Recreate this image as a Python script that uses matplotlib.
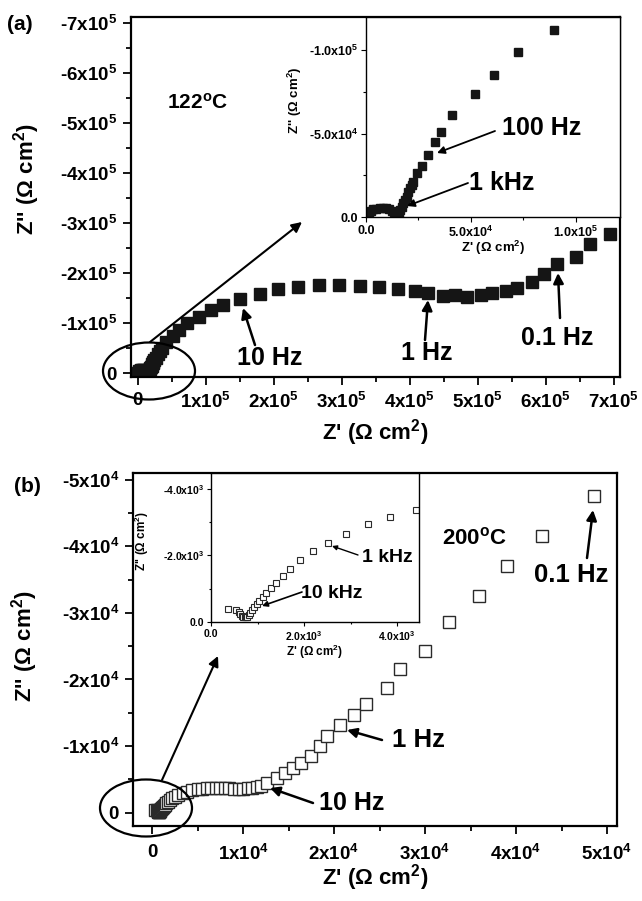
import numpy as np
import matplotlib
matplotlib.use('Agg')
import matplotlib.pyplot as plt
from matplotlib.patches import Ellipse, FancyArrowPatch
from matplotlib.ticker import MultipleLocator, FuncFormatter

plt.rcParams['font.family'] = ['Liberation Sans', 'DejaVu Sans']
plt.rcParams['font.weight'] = 'bold'
plt.rcParams['mathtext.fontset'] = 'custom'
plt.rcParams['mathtext.rm'] = 'Liberation Sans:bold'
plt.rcParams['mathtext.it'] = 'Liberation Sans:bold'
plt.rcParams['mathtext.bf'] = 'Liberation Sans:bold'

# (a) 122 C : Z' and -Z'' in 10^3 ohm cm2
a_zre = [0.5, 1.2, 2.2, 3.5, 5.0, 6.5, 8.0, 9.5, 11.0, 12.3,
         13.5, 14.6, 15.5, 16.2, 17.0, 17.8, 18.6, 19.4, 20.2, 21.0,
         21.8, 22.5, 24.1, 26.5, 29.7, 33.0, 35.9, 41.0, 51.9, 61.1,
         72.5, 89.5, 107, 126, 151, 179, 206, 236, 267, 296,
         326, 355, 383, 407, 427, 449, 467, 484, 504, 521,
         542, 558, 580, 597, 617, 644, 665, 694]
a_mzim = [1.0, 2.5, 3.8, 4.6, 5.1, 5.4, 5.5, 5.3, 4.7, 3.8,
          2.8, 2.0, 2.6, 4.0, 6.2, 8.2, 10.2, 12.2, 14.8, 17.5,
          19.5, 21.3, 26.3, 30.9, 37.3, 44.8, 50.8, 61.4, 73.5, 85.5,
          99.2, 112, 126, 136, 149, 159, 169, 173, 177, 177,
          175, 173, 168, 164, 161, 155, 156, 153, 156, 161,
          164, 171, 183, 199, 218, 233, 258, 278]

# (b) 200 C : Z' and -Z'' in ohm cm2
b_zre = [360, 540, 600, 630, 660, 690, 720, 750, 780, 810,
         840, 880, 920, 980, 1040, 1110, 1180, 1280, 1390, 1540,
         1700, 1920, 2200, 2520, 2900, 3370, 3850, 4410, 5000, 5500,
         6000, 6500, 7000, 7500, 8000, 8500, 9000, 9500, 10000, 10500,
         11000, 11500, 12000, 12600, 13700, 14600, 15500, 16400, 17500, 18500,
         19200, 20700, 22200, 23500, 25800, 27300, 30000, 32600, 35900, 39000,
         42900, 48600]
b_mzim = [380, 370, 300, 240, 190, 160, 140, 140, 160, 210,
          280, 360, 460, 540, 630, 760, 880, 1030, 1180, 1390,
          1590, 1860, 2130, 2380, 2660, 2940, 3160, 3380, 3500, 3600,
          3650, 3700, 3700, 3700, 3700, 3650, 3600, 3600, 3600, 3650,
          3700, 3800, 4000, 4500, 5200, 6000, 6700, 7500, 8500, 10000,
          11500, 13100, 14700, 16300, 18700, 21500, 24200, 28600, 32600, 37100,
          41600, 47600]

ax_re = np.array(a_zre) * 1e3
ay_im = -np.array(a_mzim) * 1e3
bx_re = np.array(b_zre, dtype=float)
by_im = -np.array(b_mzim, dtype=float)

W, H = 642, 901


def fp(x, y):
    return (x / W, 1 - y / H)


def box(l, t, r, b):
    return [l / W, 1 - b / H, (r - l) / W, (b - t) / H]


def sci(dec):
    def f(v, pos):
        if abs(v) < 1e-9:
            return '0' if dec == 0 else '0.' + '0' * dec
        e = int(np.floor(np.log10(abs(v)) + 1e-9))
        m = v / 10 ** e
        return f'{m:.{dec}f}x10$^{{{e}}}$'
    return FuncFormatter(f)


def style(ax, xmaj, ymaj, dec, lsize, lw, tl, pad_x, pad_y):
    ax.xaxis.set_major_locator(MultipleLocator(xmaj))
    ax.xaxis.set_minor_locator(MultipleLocator(xmaj / 2))
    ax.yaxis.set_major_locator(MultipleLocator(ymaj))
    ax.yaxis.set_minor_locator(MultipleLocator(ymaj / 2))
    ax.xaxis.set_major_formatter(sci(dec))
    ax.yaxis.set_major_formatter(sci(dec))
    for s in ax.spines.values():
        s.set_linewidth(lw)
    ax.tick_params(which='both', direction='out', top=False, right=False, width=lw * 0.8)
    ax.tick_params(which='major', length=tl, labelsize=lsize)
    ax.tick_params(which='minor', length=tl * 0.55)
    ax.tick_params(axis='x', pad=pad_x)
    ax.tick_params(axis='y', pad=pad_y)


fig = plt.figure(figsize=(W / 100, H / 100), dpi=100)

# ---- panel (a)
axa = fig.add_axes(box(131, 17, 620, 377))
axa.plot(ax_re, ay_im, 's', ms=8, color='#151515')
axa.set_xlim(-0.1e5, 7.09e5)
axa.set_ylim(0.08e5, -7.12e5)
style(axa, 1e5, 1e5, 0, 13.5, 1.6, 6, 5, 4)

ina = fig.add_axes(box(366, 17, 620, 217))
ina.plot(ax_re, ay_im, 's', ms=5.3, color='#151515')
ina.set_xlim(0, 1.21e5)
ina.set_ylim(0, -1.2e5)
style(ina, 5e4, 5e4, 1, 9, 1.0, 3.5, 2, 2)

fig.text(*fp(20, 25), '(a)', fontsize=15, ha='center', va='center')
fig.text(*fp(197, 103), '122$^{o}$C', fontsize=15, ha='center', va='center')
fig.text(*fp(27, 179), "Z'' ($\\Omega$ cm$^2$)", fontsize=16, rotation=90, ha='center', va='center')
fig.text(*fp(375, 433), "Z' ($\\Omega$ cm$^2$)", fontsize=16, ha='center', va='center')
fig.text(*fp(493, 248), "Z' ($\\Omega$ cm$^2$)", fontsize=9.5, ha='center', va='center')
fig.text(*fp(295, 100), "Z'' ($\\Omega$ cm$^2$)", fontsize=9.5, rotation=90, ha='center', va='center')

fig.text(*fp(270, 358), '10 Hz', fontsize=18, ha='center', va='center')
fig.text(*fp(427, 353), '1 Hz', fontsize=18, ha='center', va='center')
fig.text(*fp(557, 338), '0.1 Hz', fontsize=18, ha='center', va='center')
fig.text(*fp(542, 128), '100 Hz', fontsize=18, ha='center', va='center')
fig.text(*fp(502, 183), '1 kHz', fontsize=18, ha='center', va='center')

# ---- panel (b)
axb = fig.add_axes(box(133, 473, 617, 826))
axb.plot(bx_re, by_im, 's', ms=8, mfc='white', mec='#2a2a2a', mew=1.0)
axb.set_xlim(-0.21e4, 5.11e4)
axb.set_ylim(0.2e4, -5.1e4)
style(axb, 1e4, 1e4, 0, 13.5, 1.6, 6, 7, 4)

inb = fig.add_axes(box(211, 473, 419, 622))
inb.plot(bx_re, by_im, 's', ms=4.6, mfc='white', mec='#2a2a2a', mew=0.8)
inb.set_xlim(0, 4.47e3)
inb.set_ylim(0, -4.48e3)
style(inb, 2e3, 2e3, 1, 7.5, 1.0, 3, 2, 2)

fig.text(*fp(27, 487), '(b)', fontsize=15, ha='center', va='center')
fig.text(*fp(474, 538), '200$^{o}$C', fontsize=16, ha='center', va='center')
fig.text(*fp(25, 646), "Z'' ($\\Omega$ cm$^2$)", fontsize=16, rotation=90, ha='center', va='center')
fig.text(*fp(375, 878), "Z' ($\\Omega$ cm$^2$)", fontsize=16, ha='center', va='center')
fig.text(*fp(315, 652), "Z' ($\\Omega$ cm$^2$)", fontsize=8.5, ha='center', va='center')
fig.text(*fp(142, 541), "Z'' ($\\Omega$ cm$^2$)", fontsize=8.5, rotation=90, ha='center', va='center')

fig.text(*fp(571, 575), '0.1 Hz', fontsize=18.5, ha='center', va='center')
fig.text(*fp(418, 740), '1 Hz', fontsize=18.5, ha='center', va='center')
fig.text(*fp(352, 803), '10 Hz', fontsize=18, ha='center', va='center')
fig.text(*fp(387, 558), '1 kHz', fontsize=14, ha='center', va='center')
fig.text(*fp(332, 593), '10 kHz', fontsize=14, ha='center', va='center')

# arrows (start, end) in picture pixels
arrows = [
    ((150, 342), (302, 222), 15, 1.5),
    ((255, 345), (243, 308), 15, 1.8),
    ((425, 340), (428, 300), 15, 1.8),
    ((560, 318), (558, 273), 15, 1.8),
    ((495, 131), (437, 153), 11, 1.3),
    ((468, 183), (407, 206), 11, 1.3),
    ((162, 780), (218, 656), 15, 1.5),
    ((587, 558), (593, 510), 15, 1.8),
    ((382, 740), (347, 730), 14, 1.8),
    ((313, 803), (270, 788), 14, 1.8),
    ((358, 555), (332, 546), 7, 1.0),
    ((302, 592), (262, 606), 8, 1.2),
]
for p0, p1, ms, lw in arrows:
    fig.add_artist(FancyArrowPatch(fp(*p0), fp(*p1), transform=fig.transFigure,
                                   arrowstyle='-|>', mutation_scale=ms, lw=lw,
                                   color='black', shrinkA=0, shrinkB=0))

for cx, cy in [(149, 371), (146, 808)]:
    fig.add_artist(Ellipse(fp(cx, cy), 92 / W, 57 / H, transform=fig.transFigure,
                           fill=False, lw=1.6, ec='black'))

fig.savefig('out.png', dpi=100)
